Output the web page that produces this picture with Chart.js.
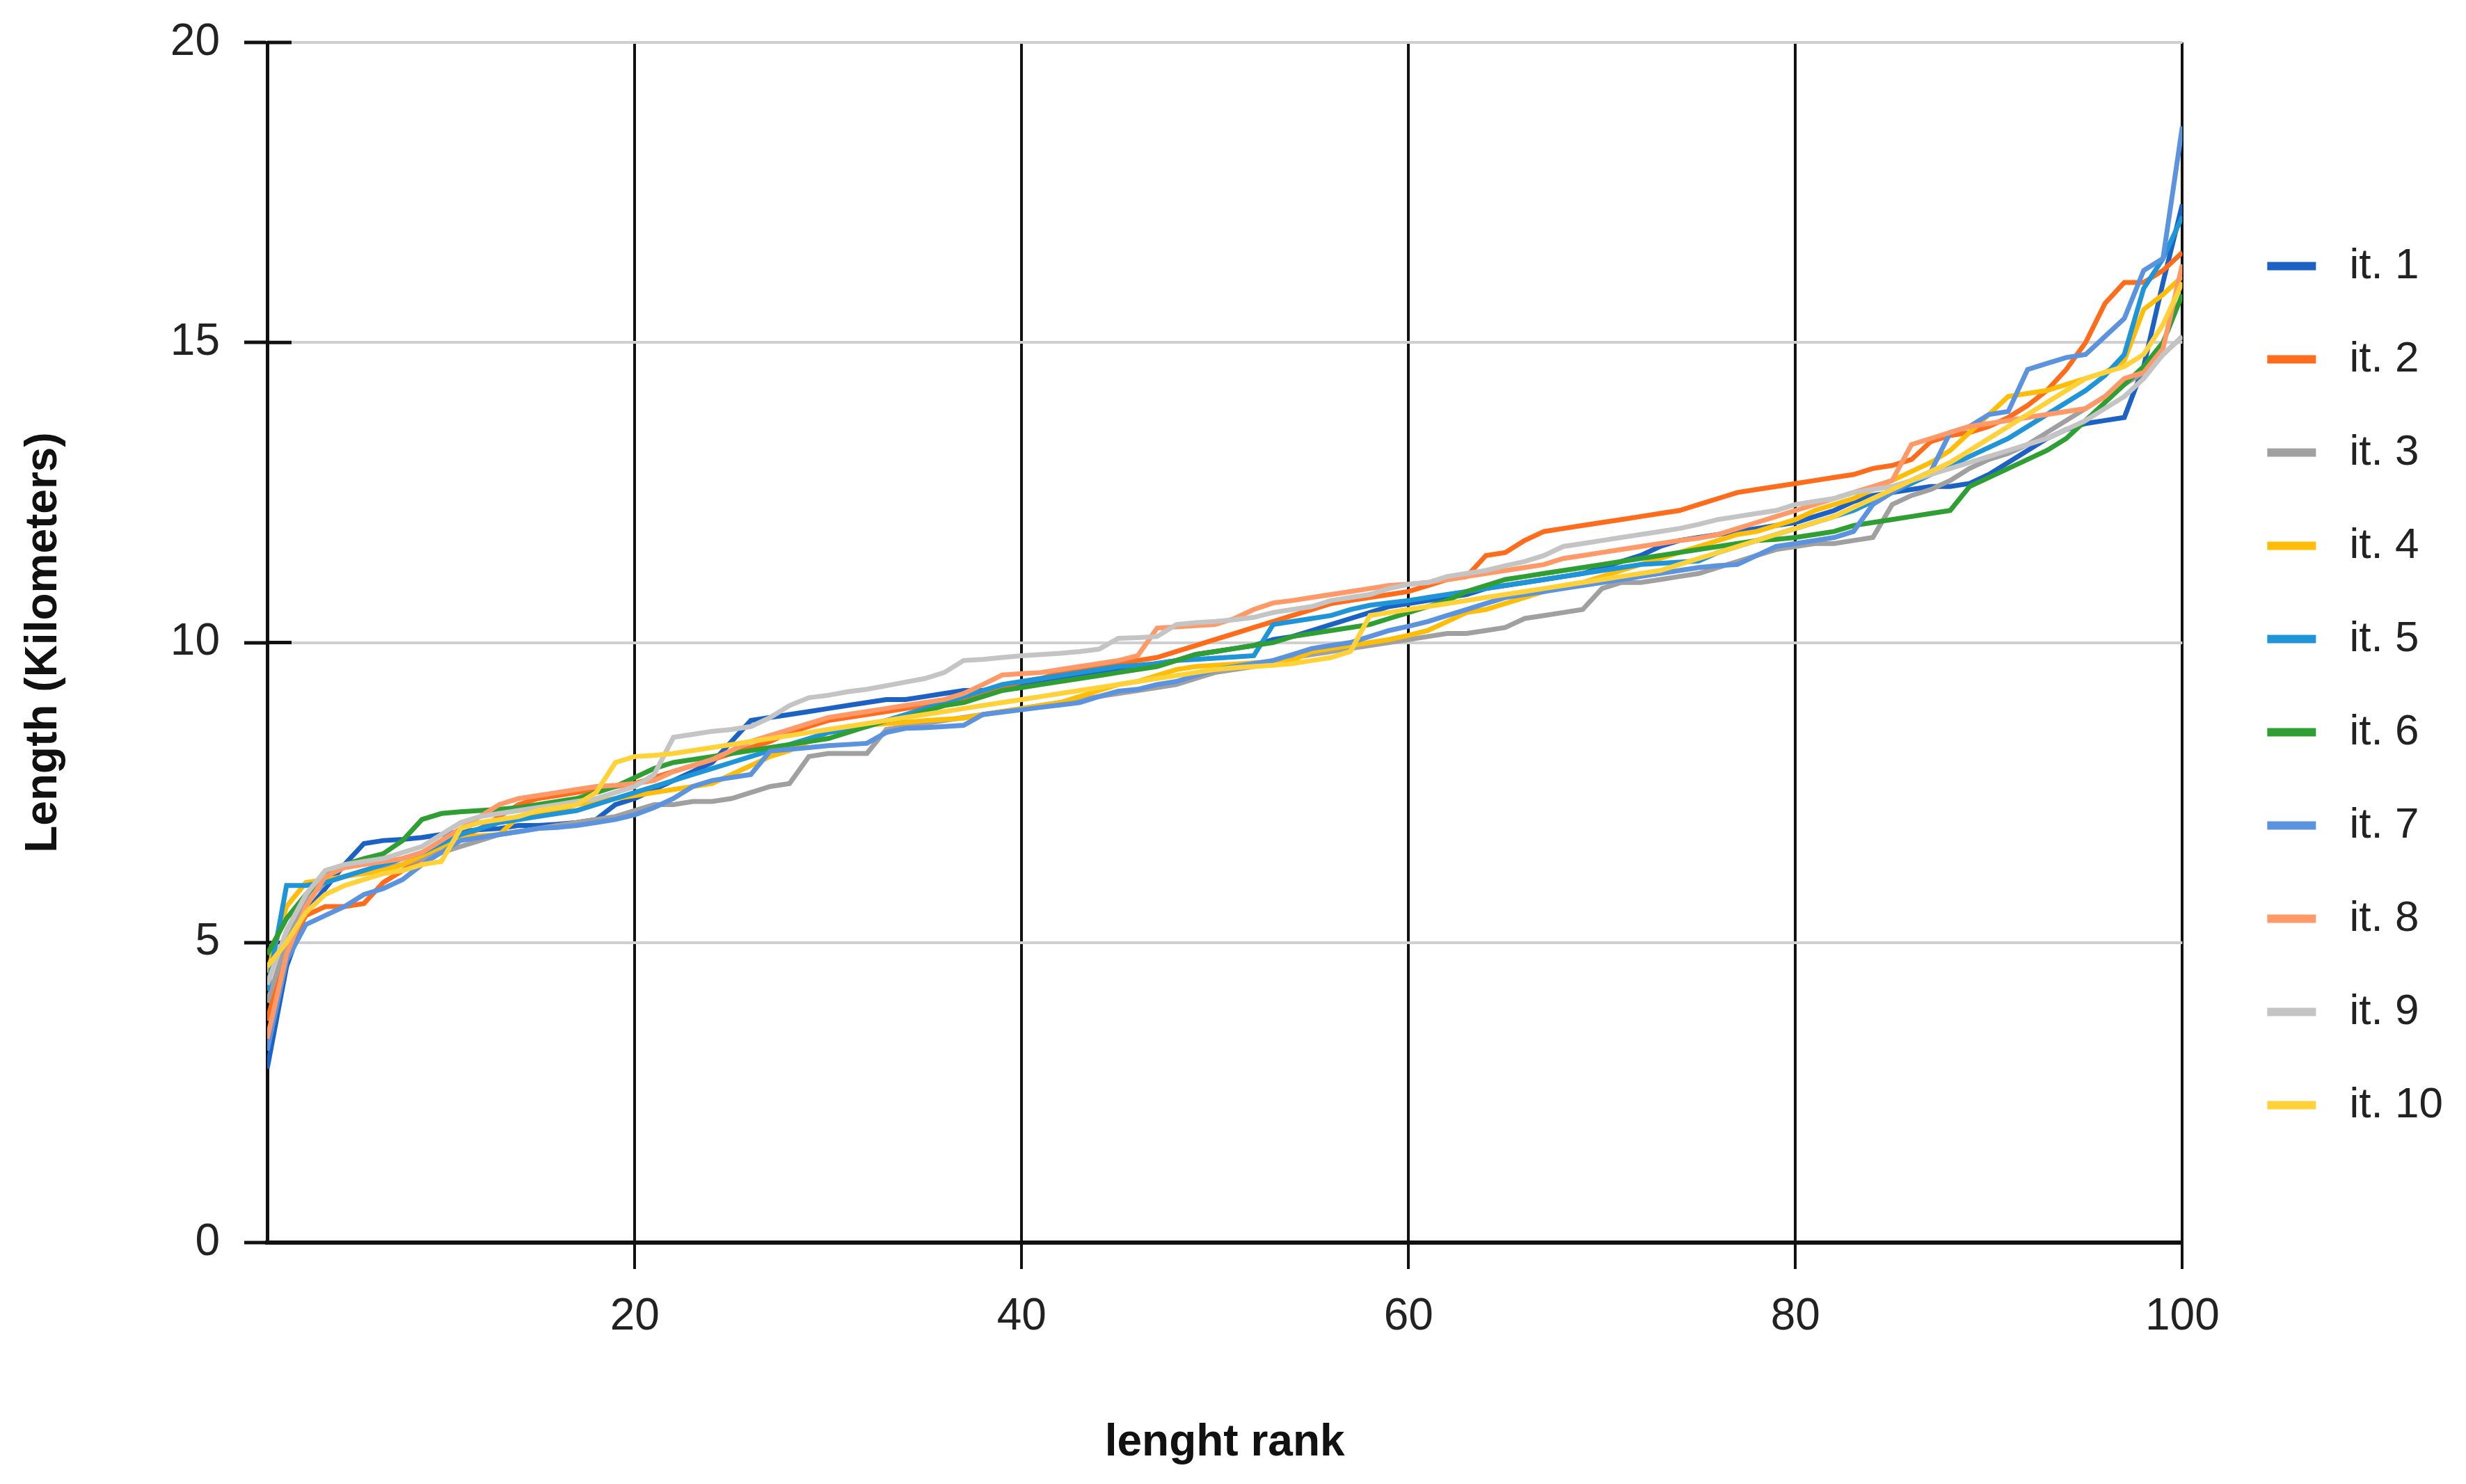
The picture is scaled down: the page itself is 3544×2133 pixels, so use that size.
<!DOCTYPE html>
<html>
<head>
<meta charset="utf-8">
<title>lenght rank</title>
<script src="https://cdn.jsdelivr.net/npm/chart.js@4.4.1/dist/chart.umd.min.js"></script>
<style>
  html, body { margin: 0; padding: 0; background: #fff; }
</style>
</head>
<body>
<canvas id="chart" width="3544" height="2133"></canvas>
<script>
// rank on x, length (km) on y
const ranks = [1,2,3,4,5,6,7,8,9,10,11,12,13,14,15,16,17,18,19,20,
  21,22,23,24,25,26,27,28,29,30,31,32,33,34,35,36,37,38,39,40,
  41,42,43,44,45,46,47,48,49,50,51,52,53,54,55,56,57,58,59,60,
  61,62,63,64,65,66,67,68,69,70,71,72,73,74,75,76,77,78,79,80,
  81,82,83,84,85,86,87,88,89,90,91,92,93,94,95,96,97,98,99,100];
const xTicks = [20, 40, 60, 80, 100];
const yTicks = [0, 5, 10, 15, 20];

const names = ['it. 1','it. 2','it. 3','it. 4','it. 5','it. 6','it. 7','it. 8','it. 9','it. 10'];
const colors = ['#1b62c4','#ff6d1c','#a0a0a0','#fdbd08','#1f95d8','#2f9f34','#5c93de','#ff9a68','#c4c4c4','#ffd23a'];

const it1 = [2.9,4.6,5.5,5.9,6.3,6.65,6.7,6.72,6.75,6.8,
  6.85,6.88,6.9,6.95,6.95,6.97,7.0,7.05,7.3,7.4,
  7.55,7.7,7.85,8.0,8.35,8.7,8.75,8.8,8.85,8.9,
  8.95,9.0,9.05,9.05,9.1,9.15,9.2,9.2,9.25,9.3,
  9.35,9.4,9.45,9.5,9.55,9.6,9.65,9.7,9.8,9.85,
  9.9,9.95,10.05,10.1,10.2,10.3,10.4,10.5,10.6,10.65,
  10.7,10.75,10.8,10.9,10.95,11.0,11.05,11.1,11.15,11.25,
  11.35,11.45,11.6,11.7,11.75,11.8,11.85,11.9,11.95,12.0,
  12.1,12.2,12.35,12.45,12.5,12.55,12.6,12.6,12.65,12.8,
  13.0,13.2,13.4,13.55,13.65,13.7,13.75,14.6,16.0,17.3];
const it2 = [3.7,4.9,5.45,5.6,5.6,5.65,6.0,6.2,6.4,6.6,
  6.75,6.9,7.1,7.3,7.4,7.45,7.5,7.55,7.6,7.65,
  7.75,7.85,7.95,8.05,8.15,8.25,8.35,8.5,8.6,8.7,
  8.75,8.8,8.85,8.9,8.95,9.0,9.05,9.15,9.25,9.35,
  9.4,9.5,9.55,9.6,9.65,9.7,9.75,9.85,9.95,10.05,
  10.15,10.25,10.35,10.45,10.55,10.65,10.7,10.75,10.8,10.85,
  10.95,11.05,11.1,11.45,11.5,11.7,11.85,11.9,11.95,12.0,
  12.05,12.1,12.15,12.2,12.3,12.4,12.5,12.55,12.6,12.65,
  12.7,12.75,12.8,12.9,12.95,13.05,13.35,13.45,13.5,13.6,
  13.75,13.95,14.2,14.55,15.0,15.65,16.0,16.0,16.2,16.5];
const it3 = [4.0,5.0,5.7,6.0,6.1,6.2,6.25,6.3,6.4,6.5,
  6.6,6.7,6.8,6.85,6.9,6.95,7.0,7.05,7.1,7.2,
  7.3,7.3,7.35,7.35,7.4,7.5,7.6,7.65,8.1,8.15,
  8.15,8.15,8.55,8.6,8.65,8.7,8.75,8.8,8.85,8.9,
  8.95,9.0,9.05,9.1,9.15,9.2,9.25,9.3,9.4,9.5,
  9.55,9.6,9.7,9.75,9.8,9.85,9.9,9.95,10.0,10.05,
  10.1,10.15,10.15,10.2,10.25,10.4,10.45,10.5,10.55,10.9,
  11.0,11.0,11.05,11.1,11.15,11.25,11.35,11.45,11.55,11.6,
  11.65,11.65,11.7,11.75,12.3,12.45,12.55,12.7,12.9,13.05,
  13.15,13.3,13.5,13.7,13.9,14.1,14.3,14.5,14.8,15.1];
const it4 = [4.5,5.6,6.0,6.05,6.1,6.15,6.2,6.3,6.45,6.6,
  6.75,6.78,6.8,7.1,7.15,7.2,7.3,7.35,7.4,7.45,
  7.5,7.55,7.6,7.65,7.8,7.95,8.1,8.2,8.35,8.5,
  8.6,8.62,8.65,8.67,8.7,8.72,8.74,8.8,8.85,8.9,
  8.95,9.0,9.1,9.2,9.3,9.35,9.45,9.55,9.6,9.62,
  9.64,9.66,9.68,9.7,9.85,9.9,9.95,10.0,10.05,10.12,
  10.2,10.35,10.5,10.55,10.65,10.75,10.85,10.95,11.0,11.1,
  11.2,11.3,11.4,11.5,11.6,11.7,11.8,11.85,11.95,12.05,
  12.2,12.3,12.4,12.55,12.7,12.85,13.0,13.2,13.5,13.8,
  14.1,14.15,14.2,14.3,14.4,14.5,14.7,15.55,15.8,16.1];
const it5 = [4.2,5.95,5.95,6.0,6.1,6.2,6.3,6.4,6.5,6.65,
  6.8,6.9,7.0,7.05,7.1,7.15,7.2,7.3,7.4,7.5,
  7.6,7.7,7.8,7.9,8.0,8.1,8.2,8.3,8.4,8.5,
  8.55,8.6,8.7,8.8,8.9,9.0,9.1,9.2,9.3,9.35,
  9.4,9.45,9.5,9.55,9.6,9.62,9.65,9.7,9.72,9.74,
  9.76,9.78,10.3,10.35,10.4,10.45,10.55,10.62,10.66,10.7,
  10.75,10.8,10.85,10.9,10.95,11.0,11.05,11.1,11.15,11.2,
  11.25,11.3,11.32,11.34,11.36,11.5,11.6,11.7,11.8,11.9,
  12.0,12.1,12.2,12.35,12.5,12.65,12.8,12.95,13.1,13.25,
  13.4,13.6,13.8,14.0,14.2,14.45,14.8,15.9,16.4,17.1];
const it6 = [4.8,5.4,5.8,6.1,6.3,6.4,6.48,6.7,7.05,7.15,
  7.18,7.2,7.22,7.25,7.3,7.35,7.4,7.5,7.6,7.75,
  7.9,8.0,8.05,8.1,8.15,8.2,8.25,8.3,8.35,8.4,
  8.5,8.6,8.7,8.75,8.85,8.95,9.0,9.1,9.2,9.25,
  9.3,9.35,9.4,9.45,9.5,9.55,9.6,9.7,9.8,9.85,
  9.9,9.95,10.0,10.1,10.15,10.2,10.25,10.3,10.4,10.5,
  10.6,10.7,10.85,10.95,11.05,11.1,11.15,11.2,11.25,11.3,
  11.35,11.4,11.45,11.5,11.55,11.6,11.65,11.7,11.72,11.75,
  11.8,11.85,11.95,12.0,12.05,12.1,12.15,12.2,12.6,12.75,
  12.9,13.05,13.2,13.4,13.7,14.0,14.3,14.6,15.0,15.8];
const it7 = [3.2,4.7,5.3,5.45,5.6,5.8,5.9,6.05,6.3,6.5,
  6.7,6.75,6.8,6.85,6.9,6.92,6.95,7.0,7.05,7.13,
  7.25,7.4,7.6,7.7,7.75,7.8,8.19,8.22,8.25,8.28,
  8.3,8.32,8.5,8.57,8.58,8.6,8.62,8.8,8.84,8.88,
  8.92,8.96,9.0,9.1,9.19,9.22,9.3,9.35,9.45,9.55,
  9.6,9.65,9.7,9.8,9.9,9.95,10.0,10.1,10.2,10.27,
  10.35,10.45,10.55,10.65,10.75,10.8,10.85,10.9,10.95,11.0,
  11.05,11.1,11.15,11.2,11.25,11.28,11.3,11.45,11.6,11.65,
  11.7,11.75,11.85,12.3,12.5,12.7,12.85,13.5,13.6,13.8,
  13.85,14.55,14.65,14.75,14.8,15.1,15.4,16.2,16.4,18.6];
const it8 = [3.4,4.8,5.6,6.1,6.25,6.3,6.35,6.4,6.5,6.7,
  6.9,7.1,7.3,7.4,7.45,7.5,7.55,7.6,7.62,7.65,
  7.7,7.85,7.95,8.05,8.2,8.35,8.45,8.55,8.65,8.75,
  8.8,8.85,8.9,8.95,9.0,9.05,9.15,9.3,9.46,9.48,
  9.5,9.55,9.6,9.65,9.7,9.78,10.24,10.26,10.28,10.3,
  10.4,10.55,10.66,10.7,10.75,10.8,10.85,10.9,10.95,10.97,
  11.0,11.05,11.1,11.15,11.2,11.25,11.3,11.4,11.45,11.5,
  11.55,11.6,11.65,11.7,11.74,11.8,11.9,12.0,12.1,12.2,
  12.3,12.4,12.5,12.6,12.7,13.3,13.4,13.5,13.6,13.65,
  13.7,13.75,13.8,13.85,13.9,14.1,14.4,14.5,14.9,16.3];
const it9 = [4.3,5.2,5.8,6.2,6.3,6.35,6.4,6.5,6.6,6.8,
  7.0,7.1,7.15,7.2,7.25,7.3,7.35,7.4,7.5,7.6,
  7.8,8.42,8.47,8.52,8.55,8.6,8.75,8.95,9.08,9.12,
  9.18,9.22,9.28,9.34,9.4,9.5,9.7,9.72,9.75,9.78,
  9.8,9.82,9.85,9.89,10.07,10.08,10.1,10.3,10.33,10.35,
  10.38,10.42,10.5,10.55,10.6,10.7,10.75,10.8,10.9,10.97,
  11.0,11.1,11.15,11.2,11.28,11.35,11.45,11.6,11.65,11.7,
  11.75,11.8,11.85,11.9,11.97,12.05,12.1,12.15,12.2,12.3,
  12.35,12.4,12.5,12.55,12.6,12.7,12.8,12.9,13.0,13.1,
  13.2,13.3,13.4,13.55,13.7,13.9,14.1,14.4,14.8,15.1];
const it10 = [4.6,5.0,5.5,5.8,5.95,6.05,6.15,6.2,6.3,6.35,
  6.9,7.0,7.05,7.1,7.2,7.25,7.3,7.5,8.0,8.1,
  8.12,8.15,8.2,8.25,8.3,8.35,8.4,8.45,8.5,8.55,
  8.6,8.65,8.7,8.75,8.8,8.85,8.9,8.95,9.0,9.05,
  9.1,9.15,9.2,9.25,9.3,9.35,9.4,9.45,9.5,9.55,
  9.58,9.6,9.62,9.65,9.7,9.75,9.85,10.45,10.5,10.55,
  10.6,10.65,10.7,10.75,10.8,10.85,10.9,10.95,11.0,11.05,
  11.1,11.15,11.2,11.3,11.4,11.5,11.6,11.7,11.8,11.9,
  12.0,12.1,12.25,12.4,12.55,12.7,12.85,13.0,13.2,13.4,
  13.6,13.8,14.0,14.2,14.4,14.5,14.6,14.8,15.3,16.0];
const series = [it1, it2, it3, it4, it5, it6, it7, it8, it9, it10];

const FONT = "'Liberation Sans', Arial, sans-serif";
Chart.defaults.font.family = FONT;
Chart.defaults.color = '#222';

// short black tick stubs that run into the plot on the y axis
const innerTicks = {
  id: 'innerTicks',
  beforeDatasetsDraw(chart) {
    const y = chart.scales.y, ctx = chart.ctx, x0 = chart.chartArea.left;
    ctx.save();
    ctx.strokeStyle = '#111';
    ctx.lineWidth = 5;
    y.ticks.forEach(t => {
      if (t.value === 0) return;
      const py = y.getPixelForValue(t.value);
      ctx.beginPath(); ctx.moveTo(x0, py); ctx.lineTo(x0 + 35, py); ctx.stroke();
    });
    ctx.restore();
  }
};

const datasets = series.map((d, i) => ({
  label: names[i],
  data: d,
  borderColor: colors[i],
  backgroundColor: colors[i],
  borderWidth: 7,
  pointRadius: 0,
  tension: 0,
  order: series.length - i
}));

new Chart(document.getElementById('chart'), {
  type: 'line',
  data: { labels: ranks, datasets },
  options: {
    responsive: false,
    animation: false,
    events: [],
    layout: { padding: { top: 61, right: 23, bottom: 0, left: 0 } },
    scales: {
      x: {
        type: 'linear', min: 1, max: 100,
        afterBuildTicks: s => { s.ticks = xTicks.map(v => ({ value: v })); },
        afterFit: s => { s.height = 347; },
        grid: { color: '#111', lineWidth: 4, tickLength: 38, tickColor: '#111', tickWidth: 4 },
        border: { color: '#111', width: 6 },
        ticks: { font: { size: 64 }, color: '#222', padding: 31, maxRotation: 0 },
        title: { display: true, text: 'lenght rank', font: { size: 64, weight: 'bold' }, color: '#111', padding: 20 }
      },
      y: {
        min: 0, max: 20,
        afterBuildTicks: s => { s.ticks = yTicks.map(v => ({ value: v })); },
        afterFit: s => { s.width = 384; s.paddingTop = 20; s.paddingBottom = 20; },
        grid: { color: '#cfcfcf', lineWidth: 4, tickLength: 33, tickColor: '#111', tickWidth: 5 },
        border: { color: '#111', width: 5 },
        ticks: { font: { size: 64 }, color: '#222', padding: 35 },
        title: { display: true, text: 'Length (Kilometers)', font: { size: 64, weight: 'bold' }, color: '#111', padding: 25 }
      },
      gap: {
        type: 'linear', position: 'right', display: true,
        grid: { display: false }, border: { display: false }, ticks: { display: false },
        afterFit: s => { s.width = 50; }
      }
    },
    plugins: {
      tooltip: { enabled: false },
      legend: {
        position: 'right',
        fullSize: false,
        title: { display: true, text: ' ', font: { size: 10 }, padding: { top: 56, bottom: 56 } },
        labels: {
          boxWidth: 70, boxHeight: 12, padding: 72,
          color: '#222', font: { size: 62 },
          sort: (a, b) => a.datasetIndex - b.datasetIndex,
          generateLabels: chart => Chart.defaults.plugins.legend.labels.generateLabels(chart)
            .map(it => Object.assign(it, { text: ' ' + it.text, lineWidth: 0, fillStyle: it.strokeStyle }))
        }
      }
    }
  },
  plugins: [innerTicks]
});
</script>
</body>
</html>
